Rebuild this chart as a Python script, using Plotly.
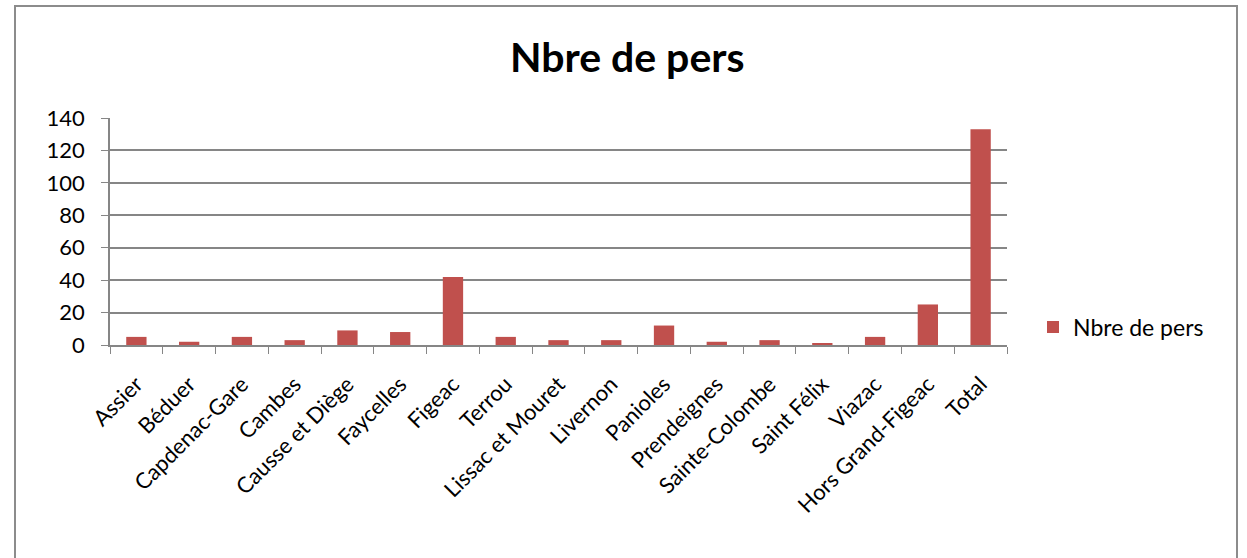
import plotly.graph_objects as go

categories = ["Assier", "Béduer", "Capdenac-Gare", "Cambes", "Causse et Diège",
              "Faycelles", "Figeac", "Terrou", "Lissac et Mouret", "Livernon",
              "Panioles", "Prendeignes", "Sainte-Colombe", "Saint Félix", "Viazac",
              "Hors Grand-Figeac", "Total"]
values = [5, 2, 5, 3, 9, 8, 42, 5, 3, 3, 12, 2, 3, 1, 5, 25, 133]
y_ticks = [0, 20, 40, 60, 80, 100, 120, 140]
series_name = "Nbre de pers"

FONT = "Lato"
W, H = 1247, 558
L, R, T, B = 110, 1007, 118, 345
pw, ph = R - L, B - T

fig = go.Figure()
fig.add_trace(go.Bar(x=categories, y=values, name=series_name,
                     marker=dict(color="#C0504D", line=dict(width=0))))

def px_x(p):
    return (p - L) / pw

def px_y(p):
    return (B - p) / ph

fig.update_layout(
    width=W, height=H,
    margin=dict(l=L, r=W - R, t=T, b=H - B, autoexpand=False),
    paper_bgcolor="white", plot_bgcolor="white",
    font=dict(family=FONT, color="black", size=22),
    title=dict(text="<b>Nbre de pers</b>", x=0.503, xanchor="center",
               y=1 - 58 / H, yanchor="middle",
               font=dict(size=41, family=FONT, color="black")),
    bargap=0.615,
    showlegend=True,
    legend=dict(x=px_x(1033), y=px_y(327), xanchor="left", yanchor="middle",
                font=dict(size=23, family=FONT), itemsizing="constant",
                bgcolor="rgba(0,0,0,0)"),
    xaxis=dict(tickangle=-45, ticks="outside", tickson="boundaries", ticklen=7,
               tickcolor="#868686", showline=True, linecolor="#868686", linewidth=1.5,
               tickfont=dict(size=22, family=FONT), showgrid=False,
               ticklabelstandoff=16),
    yaxis=dict(range=[0, 140], tickvals=y_ticks, ticks="outside", ticklen=7,
               tickcolor="#868686", showline=True, linecolor="#868686", linewidth=1.5,
               gridcolor="#868686", gridwidth=1.5, zeroline=False,
               tickfont=dict(size=22, family=FONT), ticklabelstandoff=12),
    shapes=[dict(type="rect", xref="paper", yref="paper",
                 x0=px_x(15), x1=px_x(1237), y0=px_y(562), y1=px_y(6),
                 line=dict(color="#8C8C8C", width=2), fillcolor="rgba(0,0,0,0)",
                 layer="below")],
)

fig.write_html("out.html", config={"displayModeBar": False},
               post_script="document.body.style.margin='0';document.body.style.overflow='hidden';")
